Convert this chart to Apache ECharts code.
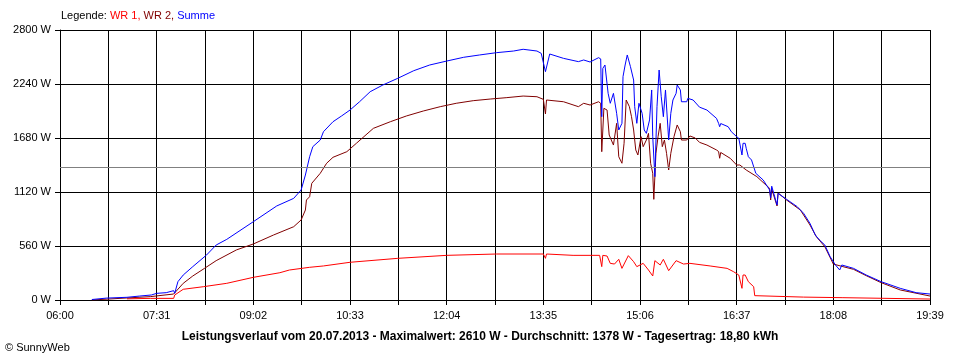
<!DOCTYPE html>
<html>
<head>
<meta charset="utf-8">
<script src="https://cdn.jsdelivr.net/npm/echarts@6/dist/echarts.min.js"></script>
<style>
html,body{margin:0;padding:0;background:#fff;}
#chart{width:960px;height:360px;}
</style>
</head>
<body>
<div id="chart"></div>
<script>
// ---- data ----
const xTickLabels = ['06:00','07:31','09:02','10:33','12:04','13:35','15:06','16:37','18:08','19:39'];
const yMax = 2800;
const yStep = 560;
const averageW = 1378;

const wr1Times = ['07:03','07:25','07:47','07:48','07:56','08:15','08:37','09:02','09:27','09:36','09:55','10:08','10:33','11:18','12:04','12:51','13:35','13:37','13:38','14:03','14:28','14:30','14:31','14:35','14:38','14:42','14:46','14:49','14:55','15:00','15:03','15:09','15:14','15:18','15:20','15:25','15:28','15:33','15:40','15:47','15:53','16:12','16:28','16:34','16:39','16:42','16:43','16:45','16:48','16:53','16:54','17:40','18:17','19:39'];
const wr1Values = [12,17,17,52,111,138,173,235,283,311,339,353,391,432,463,477,477,432,477,463,463,346,463,456,380,373,422,328,460,397,346,380,311,249,408,363,422,304,408,373,380,353,328,294,259,121,259,259,190,138,45,30,24,10];

const wr2Times = ['06:30','07:03','07:25','07:47','07:56','08:05','08:16','08:27','08:46','09:02','09:21','09:40','09:47','09:51','09:52','09:55','09:57','10:05','10:11','10:17','10:30','10:39','10:55','11:11','11:26','11:42','11:58','12:13','12:29','12:45','13:00','13:16','13:29','13:35','13:37','13:38','13:54','14:08','14:13','14:19','14:27','14:29','14:30','14:32','14:35','14:37','14:39','14:41','14:44','14:46','14:49','14:51','14:53','14:56','14:58','15:00','15:02','15:04','15:07','15:09','15:12','15:14','15:16','15:18','15:19','15:21','15:23','15:25','15:27','15:29','15:31','15:33','15:35','15:38','15:41','15:44','15:45','15:50','15:53','15:58','16:02','16:09','16:18','16:20','16:21','16:22','16:31','16:37','16:40','16:46','16:56','17:08','17:09','17:10','17:15','17:16','17:24','17:37','17:46','17:52','18:00','18:08','18:17','18:27','18:39','18:53','19:11','19:39'];
const wr2Values = [0,21,35,62,173,249,328,408,519,581,674,760,830,933,1037,1071,1210,1314,1418,1480,1538,1625,1780,1849,1908,1960,2005,2040,2067,2084,2098,2115,2108,2081,1929,2074,2056,2005,2040,2022,2056,2040,1538,1988,1970,1711,1659,1607,1832,1486,1418,1625,2074,2005,1901,1763,1556,1504,1694,1590,1659,1728,1418,1314,1044,1521,1694,1832,1590,1659,1521,1348,1521,1694,1815,1745,1659,1659,1701,1680,1635,1607,1556,1540,1470,1530,1469,1400,1400,1348,1279,1158,1037,1150,975,1110,1037,933,778,657,553,373,346,318,252,180,104,41];

const sumTimes = ['06:30','06:44','07:03','07:15','07:26','07:31','07:40','07:47','07:48','07:51','07:56','08:05','08:18','08:27','08:37','09:02','09:24','09:40','09:47','09:51','09:55','09:58','10:05','10:08','10:17','10:25','10:33','10:42','10:52','11:04','11:18','11:33','11:48','12:04','12:20','12:35','12:51','13:07','13:16','13:29','13:33','13:37','13:41','13:54','14:08','14:13','14:19','14:27','14:29','14:30','14:31','14:33','14:36','14:38','14:41','14:44','14:46','14:49','14:50','14:52','14:54','14:57','15:00','15:01','15:03','15:05','15:08','15:10','15:12','15:15','15:17','15:18','15:20','15:22','15:24','15:26','15:28','15:30','15:33','15:35','15:37','15:40','15:41','15:44','15:45','15:50','15:51','15:56','16:02','16:09','16:18','16:20','16:21','16:22','16:29','16:32','16:37','16:39','16:42','16:43','16:45','16:46','16:48','16:51','16:55','17:02','17:08','17:09','17:10','17:15','17:16','17:24','17:34','17:40','17:46','17:51','17:55','18:00','18:05','18:10','18:14','18:16','18:27','18:39','18:53','19:11','19:26','19:39'];
const sumValues = [5,20,28,41,52,69,76,97,70,190,259,346,467,570,629,812,975,1054,1141,1296,1486,1590,1659,1745,1849,1908,1970,2056,2160,2230,2299,2378,2437,2478,2517,2541,2565,2582,2600,2582,2558,2368,2551,2506,2472,2489,2468,2513,2500,1901,2402,2437,2143,2040,2143,1936,1763,1832,2316,2437,2541,2420,2281,2005,1832,2040,1936,1763,1728,1867,2178,1694,1279,2005,2385,2108,1901,2178,1659,1936,2074,2143,2230,2178,2056,2056,2091,2074,2000,1970,1884,1832,1797,1830,1797,1745,1694,1677,1504,1625,1625,1573,1486,1452,1314,1244,1141,1060,1180,985,1106,1044,968,899,795,674,622,570,449,363,311,363,328,259,190,121,76,62];

// ---- build ----
function toMin(s){ const p = s.split(':'); return (+p[0])*60 + (+p[1]) - 360; }
function pairs(times, vals){ return times.map((t,i)=>[toMin(t), vals[i]]); }

const FONT = 'Liberation Sans';
const chart = echarts.init(document.getElementById('chart'), null, {renderer:'canvas'});
chart.setOption({
  animation:false,
  backgroundColor:'#fff',
  grid:{left:60, right:30, top:30, bottom:60, containLabel:false},
  xAxis:{
    type:'value', min:0, max:819, interval:45.5,
    axisLine:{show:true, onZero:false, lineStyle:{color:'#000', width:1}},
    axisTick:{show:true, inside:false, length:5, lineStyle:{color:'#000'}},
    splitLine:{show:true, lineStyle:{color:'#000', width:1}},
    axisLabel:{
      color:'#000', fontFamily:FONT, fontSize:11, margin:10, hideOverlap:false,
      showMinLabel:true, showMaxLabel:true,
      formatter:function(v){ const k = Math.round(v/45.5); return (k%2===0) ? (xTickLabels[k/2]||'') : ''; }
    }
  },
  yAxis:{
    type:'value', min:0, max:yMax, interval:yStep,
    axisLine:{show:true, lineStyle:{color:'#000', width:1}},
    axisTick:{show:true, inside:false, length:5, lineStyle:{color:'#000'}},
    splitLine:{show:true, lineStyle:{color:'#000', width:1}},
    axisLabel:{color:'#000', fontFamily:FONT, fontSize:11, margin:9,
      formatter:function(v){ return String(Math.round(v)) + ' W'; }}
  },
  series:[
    {name:'WR 1', type:'line', data:pairs(wr1Times, wr1Values), showSymbol:false, symbol:'none',
     lineStyle:{color:'#ff0000', width:1}, itemStyle:{color:'#ff0000'},
     markLine:{silent:true, symbol:['none','none'], label:{show:false},
       lineStyle:{color:'#808080', type:'solid', width:1}, data:[{yAxis:averageW}]}},
    {name:'WR 2', type:'line', data:pairs(wr2Times, wr2Values), showSymbol:false, symbol:'none',
     lineStyle:{color:'#800000', width:1}, itemStyle:{color:'#800000'}},
    {name:'Summe', type:'line', data:pairs(sumTimes, sumValues), showSymbol:false, symbol:'none',
     lineStyle:{color:'#0000ff', width:1}, itemStyle:{color:'#0000ff'}}
  ],
  graphic:[
    {type:'text', left:61, top:10, style:{
      text:'{k|Legende: }{a|WR 1, }{b|WR 2, }{c|Summe}',
      rich:{
        k:{fill:'#000', fontFamily:FONT, fontSize:11},
        a:{fill:'#ff0000', fontFamily:FONT, fontSize:11},
        b:{fill:'#800000', fontFamily:FONT, fontSize:11},
        c:{fill:'#0000ff', fontFamily:FONT, fontSize:11}
      }}},
    {type:'text', left:'center', top:331, style:{
      text:'Leistungsverlauf vom 20.07.2013 - Maximalwert: 2610 W - Durchschnitt: 1378 W - Tagesertrag: 18,80 kWh',
      fill:'#000', fontFamily:FONT, fontSize:12, fontWeight:'bold'}},
    {type:'text', left:5, top:342, style:{text:'© SunnyWeb', fill:'#000', fontFamily:FONT, fontSize:11}}
  ]
});
</script>
</body>
</html>
